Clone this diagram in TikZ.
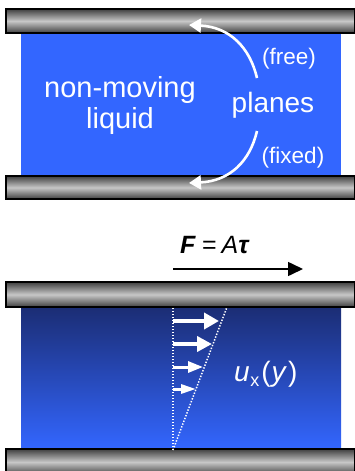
\documentclass[tikz,border=0pt]{standalone}
\usepackage{fontspec}
\setmainfont{Liberation Sans}
\usetikzlibrary{arrows.meta}
\definecolor{liq}{HTML}{3366FF}
\definecolor{liqdark}{HTML}{1B2D74}
\tikzset{
  bar/.style={draw=black, line width=1.4pt, top color=black!75, bottom color=black!75, middle color=black!22, shading angle=0},
  lbl/.style={text=white, anchor=base, inner sep=0pt},
  curvearrow/.style={white, line width=2.6pt, -{Triangle[length=12pt,width=14pt]}},
  dots/.style={white, line width=1.5pt, dash pattern=on 1.4pt off 1.6pt},
}
\begin{document}
\begin{tikzpicture}[x=1pt,y=-1pt]
\useasboundingbox (0,0) rectangle (355,471);
% ---------- top panel ----------
\fill[liq] (21,33) rectangle (341,176);
\draw[bar] (6,9) rectangle (354.5,33);
\draw[bar] (6,176) rectangle (354.5,199);
\node[lbl, font=\fontsize{29}{31}\selectfont] (nm) at (120,97) {non-moving};
\node[lbl, font=\fontsize{29}{31}\selectfont] (lq) at (120,128) {liquid};
\node[lbl, font=\fontsize{28}{30}\selectfont] (pl) at (273,112) {planes};
\node[lbl, font=\fontsize{22.5}{24}\selectfont] (fr) at (289,64) {(free)};
\node[lbl, font=\fontsize{22.5}{24}\selectfont] (fx) at (293,163) {(fixed)};
\coordinate (su) at (257,78);
\coordinate (sl) at (257,131);
\coordinate (tu) at (189,25);
\coordinate (tl) at (189,183);
\draw[curvearrow] (su) .. controls (250,48) and (230,27) .. (tu);
\draw[curvearrow] (sl) .. controls (250,161) and (230,181) .. (tl);
% ---------- bottom panel ----------
\shade[top color=liqdark, bottom color=liq] (21,307) rectangle (341,449);
\draw[bar] (6,282) rectangle (354.5,307);
\draw[bar] (6,449) rectangle (354.5,475);
\node[anchor=base west, inner sep=0pt, font=\fontsize{25}{27}\selectfont] (F) at (180,253)
  {\textbf{\textit{F}}\hspace{6pt}=\hspace{5pt}\textit{A}\textbf{\textit{τ}}};
\coordinate (fa) at (173,269);
\coordinate (fb) at (303,269);
\draw[line width=1.6pt, -{Triangle[length=15pt,width=14pt]}] (fa) -- (fb);
\coordinate (bot) at (173,450);
\coordinate (topv) at (173,307);
\coordinate (topd) at (227,307);
\draw[dots] (bot) -- (topv);
\draw[dots] (bot) -- (topd);
\coordinate (a1) at (173,321); \coordinate (b1) at (219,321);
\coordinate (a2) at (173,344); \coordinate (b2) at (212,344);
\coordinate (a3) at (173,367); \coordinate (b3) at (203,367);
\coordinate (a4) at (173,389); \coordinate (b4) at (196,389);
\draw[white, line width=4pt, -{Triangle[length=15pt,width=16pt]}] (a1) -- (b1);
\draw[white, line width=4pt, -{Triangle[length=15pt,width=15pt]}] (a2) -- (b2);
\draw[white, line width=3pt, -{Triangle[length=15pt,width=11pt]}] (a3) -- (b3);
\draw[white, line width=3pt, -{Triangle[length=15pt,width=9pt]}] (a4) -- (b4);
\node[lbl, anchor=base west, font=\fontsize{28}{30}\selectfont] (ux) at (234,381)
  {\textit{u}\hspace{0.5pt}\raisebox{-5pt}{\fontsize{18}{20}\selectfont x}\hspace{2pt}(\hspace{1pt}\textit{y}\hspace{1pt})};
\end{tikzpicture}
\end{document}
